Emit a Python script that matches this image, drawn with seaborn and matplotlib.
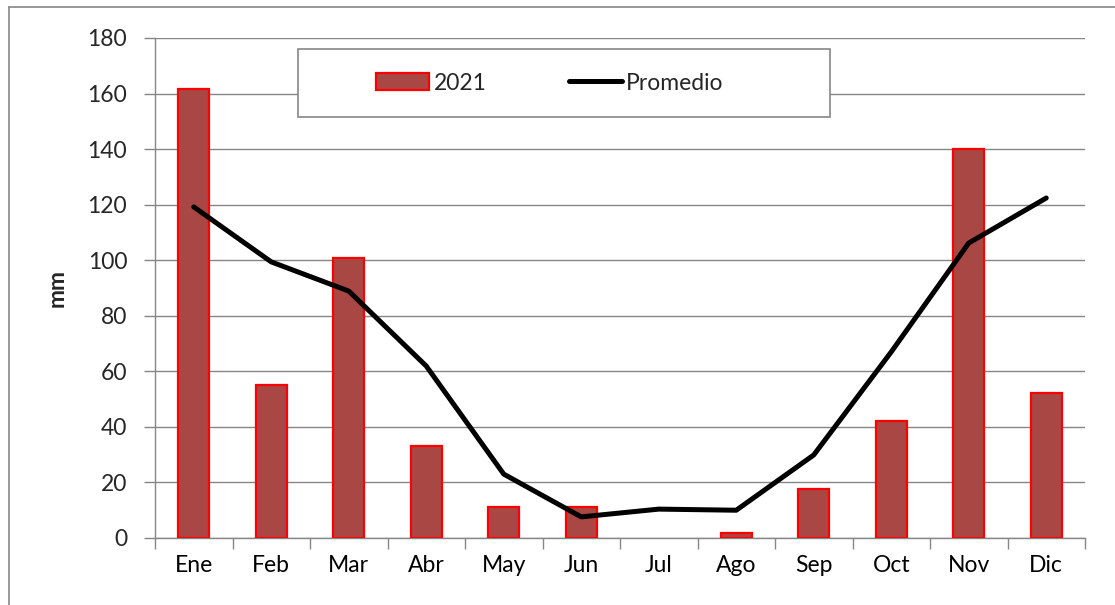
import numpy as np
import pandas as pd
import matplotlib
matplotlib.use("Agg")
import matplotlib.pyplot as plt
import seaborn as sns
from matplotlib.patches import Rectangle
from matplotlib.lines import Line2D

months = ["Ene", "Feb", "Mar", "Abr", "May", "Jun", "Jul", "Ago", "Sep", "Oct", "Nov", "Dic"]
rain_2021 = [161.6, 55.0, 100.8, 33.0, 11.2, 11.0, 0.0, 1.8, 17.6, 42.0, 140.0, 52.2]
promedio = [119.2, 99.4, 88.9, 61.9, 23.0, 7.6, 10.4, 10.0, 29.9, 67.0, 106.2, 122.4]
yticks = [0, 20, 40, 60, 80, 100, 120, 140, 160, 180]

sns.set_theme(style="white")
plt.rcParams["font.family"] = ["Lato", "DejaVu Sans"]
FS = 16.5

df = pd.DataFrame({"mes": months, "lluvia": rain_2021, "prom": promedio, "pos": np.arange(len(months))})

fig = plt.figure(figsize=(11.15, 6.05), dpi=100)
ax = fig.add_axes([155 / 1115, 67 / 605, 930 / 1115, 500 / 605])

sns.barplot(data=df, x="pos", y="lluvia", color="#A94744", edgecolor="#FF0000",
            linewidth=1.6, width=0.4, saturation=1, ax=ax, label="2021", zorder=3, native_scale=True)
# zero-height bars are invisible (as in the original spreadsheet chart)
for p in ax.patches:
    if p.get_height() == 0:
        p.set_visible(False)
sns.lineplot(data=df, x="pos", y="prom", color="black", linewidth=3.6, ax=ax,
             label="Promedio", zorder=4, solid_capstyle="round", solid_joinstyle="round")

ax.set_xlim(-0.5, len(months) - 0.5)
ax.set_ylim(0, 180)
ax.set_yticks(yticks)
ax.set_yticklabels([str(v) for v in yticks])
ax.set_xticks(np.arange(len(months) + 1) - 0.5)
ax.set_xticklabels([])
ax.set_xticks(np.arange(len(months)), minor=True)
ax.set_xticklabels(months, minor=True)
ax.tick_params(axis="x", which="major", length=8, width=1, color="#868686", direction="out", bottom=True)
ax.tick_params(axis="x", which="minor", length=0, pad=12, labelsize=FS, colors="black")
ax.tick_params(axis="y", length=8, width=1, color="#868686", direction="out", left=True, pad=12, labelsize=FS)
ax.set_xlabel("")
ax.set_ylabel("mm", fontsize=FS, fontweight="bold")
ax.yaxis.set_label_coords(-0.094, 0.5)

ax.yaxis.grid(True, color="#868686", linewidth=1)
ax.xaxis.grid(False)
ax.set_axisbelow(True)
for s in ["top", "right"]:
    ax.spines[s].set_visible(False)
for s in ["left", "bottom"]:
    ax.spines[s].set_color("#868686")
    ax.spines[s].set_linewidth(1)

# legend box
box = Rectangle(((298 - 155) / 930, (538 - 117) / 500), (830 - 298) / 930, (117 - 49) / 500,
                transform=ax.transAxes, facecolor="white", edgecolor="#868686", linewidth=1.2,
                zorder=5, clip_on=False)
ax.add_patch(box)
handles, labels = ax.get_legend_handles_labels()
order = [labels.index("2021"), labels.index("Promedio")]
leg = ax.legend([handles[i] for i in order], [labels[i] for i in order],
                loc="center", bbox_to_anchor=((550 - 155) / 930, (538 - 83) / 500), ncol=2,
                frameon=False, fontsize=FS, handlelength=2.3, handletextpad=0.2,
                columnspacing=3.6)
leg.set_zorder(6)

# outer frame (left and top edges)
fig.add_artist(Line2D([9 / 1115, 9 / 1115], [0, 1 - 7 / 605], transform=fig.transFigure,
                      color="#868686", linewidth=1.2))
fig.add_artist(Line2D([9 / 1115, 1], [1 - 7 / 605, 1 - 7 / 605], transform=fig.transFigure,
                      color="#868686", linewidth=1.2))

fig.savefig("out.png", dpi=100)
